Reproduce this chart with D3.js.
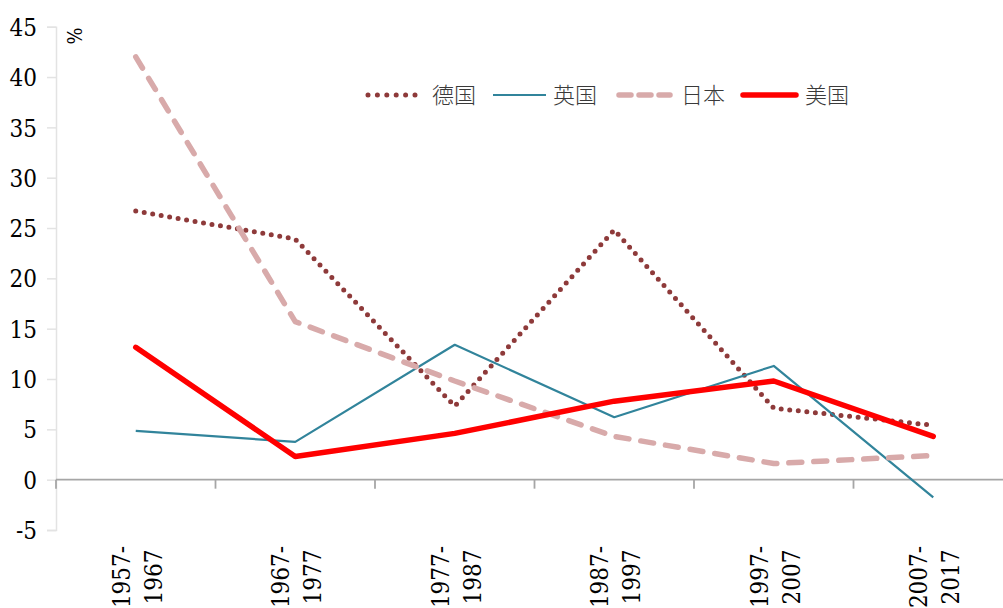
<!DOCTYPE html>
<html>
<head>
<meta charset="utf-8">
<script src="https://cdn.jsdelivr.net/npm/d3@7/dist/d3.min.js"></script>
<style>
  html, body { margin: 0; padding: 0; background: #fff; }
  svg { display: block; }
  svg text.serif { font-family: "DejaVu Serif"; font-stretch: condensed; }
</style>
</head>
<body>
<svg id="chart" width="1003" height="608"></svg>
<script>
// Periods (each label is split into two lines)
const periods = ["1957-1967", "1967-1977", "1977-1987", "1987-1997", "1997-2007", "2007-2017"];

// Average growth over each decade, %
const germany = [26.7, 23.9, 7.3, 24.8, 7.1, 5.4];
const uk      = [4.85, 3.75, 13.4, 6.2, 11.3, -1.75];
const japan   = [42.0, 15.7, 9.8, 4.3, 1.6, 2.4];
const usa     = [13.15, 2.3, 4.6, 7.8, 9.8, 4.3];

const yTicks = [-5, 0, 5, 10, 15, 20, 25, 30, 35, 40, 45];

const series = [
  { name: "德国", values: germany, color: "#8e3a3a", width: 5,   dash: "0 8.6", cap: "round" },
  { name: "英国", values: uk,      color: "#31849b", width: 2.2, dash: null,    cap: "butt" },
  { name: "日本", values: japan,   color: "#d8aaaa", width: 5.5, dash: "13 12", cap: "round" },
  { name: "美国", values: usa,     color: "#ff0000", width: 5.5, dash: null,    cap: "round" }
];

const svg = d3.select("#chart");

const x = d3.scaleBand().domain(periods).range([56, 1013]).padding(0);
const y = d3.scaleLinear().domain([-5, 45]).range([530, 26.7]);
const cx = d => x(d) + x.bandwidth() / 2;

// Y axis
const yAxis = svg.append("g")
  .attr("transform", "translate(56,0)")
  .call(d3.axisLeft(y).tickValues(yTicks).tickSize(9).tickPadding(10).tickFormat(d => d < 0 ? "-" + Math.abs(d) : String(d)));
yAxis.attr("font-family", null).attr("font-size", null);
yAxis.select(".domain").attr("stroke", "#e3e3e3").attr("stroke-width", 1.5);
yAxis.selectAll(".tick line").attr("stroke", "#e3e3e3").attr("stroke-width", 1.5);
yAxis.selectAll(".tick text")
  .attr("class", "serif")
  .style("font-size", "24px").attr("fill", "#000")
  .attr("dy", "0.36em");

// Unit label
svg.append("text")
  .attr("class", "serif")
  .attr("transform", "translate(67,36) rotate(90)")
  .attr("text-anchor", "middle")
  .style("font-size", "20px").attr("fill", "#000")
  .text("%");

// X axis along zero, with ticks at the period boundaries
const y0 = y(0);
const xAxis = svg.append("g");
xAxis.append("line")
  .attr("x1", 56).attr("x2", 1003).attr("y1", y0).attr("y2", y0)
  .attr("stroke", "#a6a6a6").attr("stroke-width", 1.8);
xAxis.selectAll("line.tick")
  .data(periods)
  .join("line")
  .attr("class", "tick")
  .attr("x1", d => x(d)).attr("x2", d => x(d))
  .attr("y1", y0).attr("y2", y0 + 9)
  .attr("stroke", "#a6a6a6").attr("stroke-width", 1.8);

// Rotated period labels
const labels = svg.append("g").selectAll("text")
  .data(periods)
  .join("text")
  .attr("class", "serif")
  .attr("transform", d => `translate(${cx(d)},577) rotate(-90)`)
  .attr("text-anchor", "middle")
  .style("font-size", "24px").attr("fill", "#000");
labels.append("tspan").attr("x", 0).attr("y", -6).text(d => d.split("-")[0] + "-");
labels.append("tspan").attr("x", 0).attr("y", 26).text(d => d.split("-")[1]);

// Lines
const line = d3.line()
  .x((v, i) => cx(periods[i]))
  .y(v => y(v));

svg.append("g").selectAll("path")
  .data(series)
  .join("path")
  .attr("d", s => line(s.values))
  .attr("fill", "none")
  .attr("stroke", s => s.color)
  .attr("stroke-width", s => s.width)
  .attr("stroke-dasharray", s => s.dash)
  .attr("stroke-linecap", s => s.cap)
  .attr("stroke-linejoin", "round");

// Legend
const legendItems = [
  { s: series[0], x0: 368, x1: 415, tx: 432 },
  { s: series[1], x0: 493, x1: 546, tx: 553 },
  { s: series[2], x0: 619, x1: 670, tx: 681 },
  { s: series[3], x0: 743, x1: 796, tx: 805 }
];
const legend = svg.append("g");
legendItems.forEach(it => {
  legend.append("line")
    .attr("x1", it.x0).attr("x2", it.x1).attr("y1", 95).attr("y2", 95)
    .attr("stroke", it.s.color)
    .attr("stroke-width", it.s.width)
    .attr("stroke-dasharray", it.s.name === "德国" ? "0 9.4" : (it.s.name === "日本" ? "12 8" : null))
    .attr("stroke-linecap", it.s.cap);
  legend.append("text")
    .attr("x", it.tx).attr("y", 95).attr("dy", "0.36em")
    .style("font-family", "'Noto Sans CJK SC', sans-serif")
    .style("font-size", "22px").style("font-weight", 300).attr("fill", "#3a3a3a")
    .text(it.s.name);
});
</script>
</body>
</html>
